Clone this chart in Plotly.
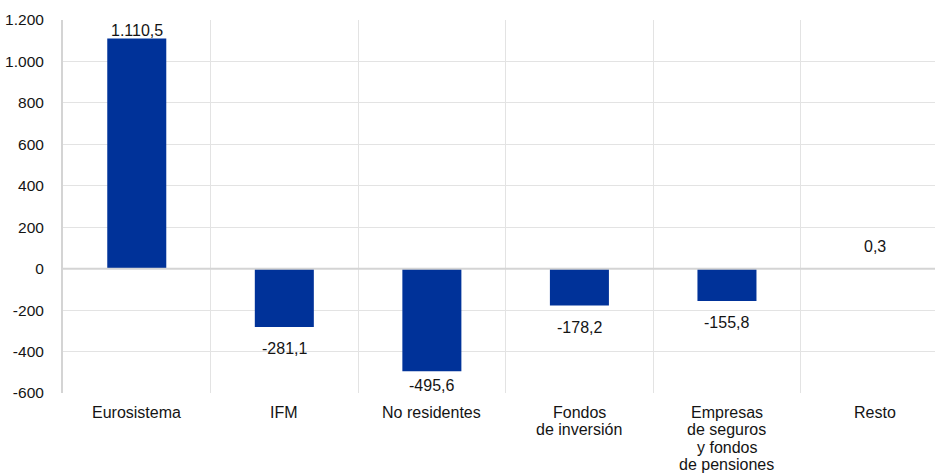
import plotly.graph_objects as go

# Sector breakdown (EUR bn)
categories = [
    ["Eurosistema"],
    ["IFM"],
    ["No residentes"],
    ["Fondos", "de inversión"],
    ["Empresas", "de seguros", "y fondos", "de pensiones"],
    ["Resto"],
]
values = [1110.5, -281.1, -495.6, -178.2, -155.8, 0.3]
y_ticks = [-600, -400, -200, 0, 200, 400, 600, 800, 1000, 1200]

BLUE = "#003299"
TEXT = "#141414"
AXIS = "#d4d4d4"
GRID = "#e3e3e3"
FONT = "Liberation Sans, Arial, sans-serif"
W, H = 935, 473
M_L, M_R, M_T, M_B = 63, 0, 20, 80
Y_MIN, Y_MAX = -600, 1200


def es_number(v, decimals=1):
    s = f"{v:,.{decimals}f}"
    return s.replace(",", "_").replace(".", ",").replace("_", ".")


x = list(range(len(values)))

fig = go.Figure()
fig.add_trace(go.Bar(
    x=x, y=values, width=0.4,
    marker=dict(color=BLUE, line=dict(width=0)),
    hoverinfo="skip",
))

annotations = []
plot_h = H - M_T - M_B
for i, v in enumerate(values):
    py = M_T + (Y_MAX - v) * plot_h / (Y_MAX - Y_MIN)
    centre = py - 22 if v >= 0 else py + 22
    centre = min(max(centre, M_T + 10), M_T + plot_h - 8)
    annotations.append(dict(
        x=i, y=v, xref="x", yref="y", text=es_number(v), showarrow=False,
        yanchor="middle", xanchor="center", yshift=py - centre,
        font=dict(family=FONT, size=16, color=TEXT),
    ))

for i, lines in enumerate(categories):
    for k, line in enumerate(lines):
        annotations.append(dict(
            x=i, y=0, xref="x", yref="paper", text=line, showarrow=False,
            yanchor="middle", xanchor="center", yshift=-(19 + 17.6 * k),
            font=dict(family=FONT, size=16, color=TEXT),
        ))

# zero baseline drawn over the bars
shapes = [dict(
    type="line", xref="paper", yref="y", x0=0, x1=1, y0=0, y1=0,
    line=dict(color=AXIS, width=2), layer="above",
)]

fig.update_layout(
    width=W, height=H,
    margin=dict(l=M_L, r=M_R, t=M_T, b=M_B, pad=0),
    paper_bgcolor="white", plot_bgcolor="white",
    showlegend=False,
    font=dict(family=FONT, color=TEXT),
    annotations=annotations,
    shapes=shapes,
    xaxis=dict(
        range=[-0.5, 5.41],
        tickmode="array", tickvals=[0.5, 1.5, 2.5, 3.5, 4.5],
        showticklabels=False, ticks="",
        showgrid=True, gridcolor=GRID, gridwidth=1,
        zeroline=False, showline=False, fixedrange=True,
    ),
    yaxis=dict(
        range=[Y_MIN, Y_MAX],
        tickmode="array", tickvals=y_ticks,
        ticktext=[es_number(t, 0) for t in y_ticks],
        tickfont=dict(family=FONT, size=15.5, color=TEXT),
        ticks="", ticklabelstandoff=14,
        showgrid=True, gridcolor=GRID, gridwidth=1,
        zeroline=False,
        showline=True, linecolor=AXIS, linewidth=2,
        fixedrange=True,
    ),
)

fig.write_html("out.html")
